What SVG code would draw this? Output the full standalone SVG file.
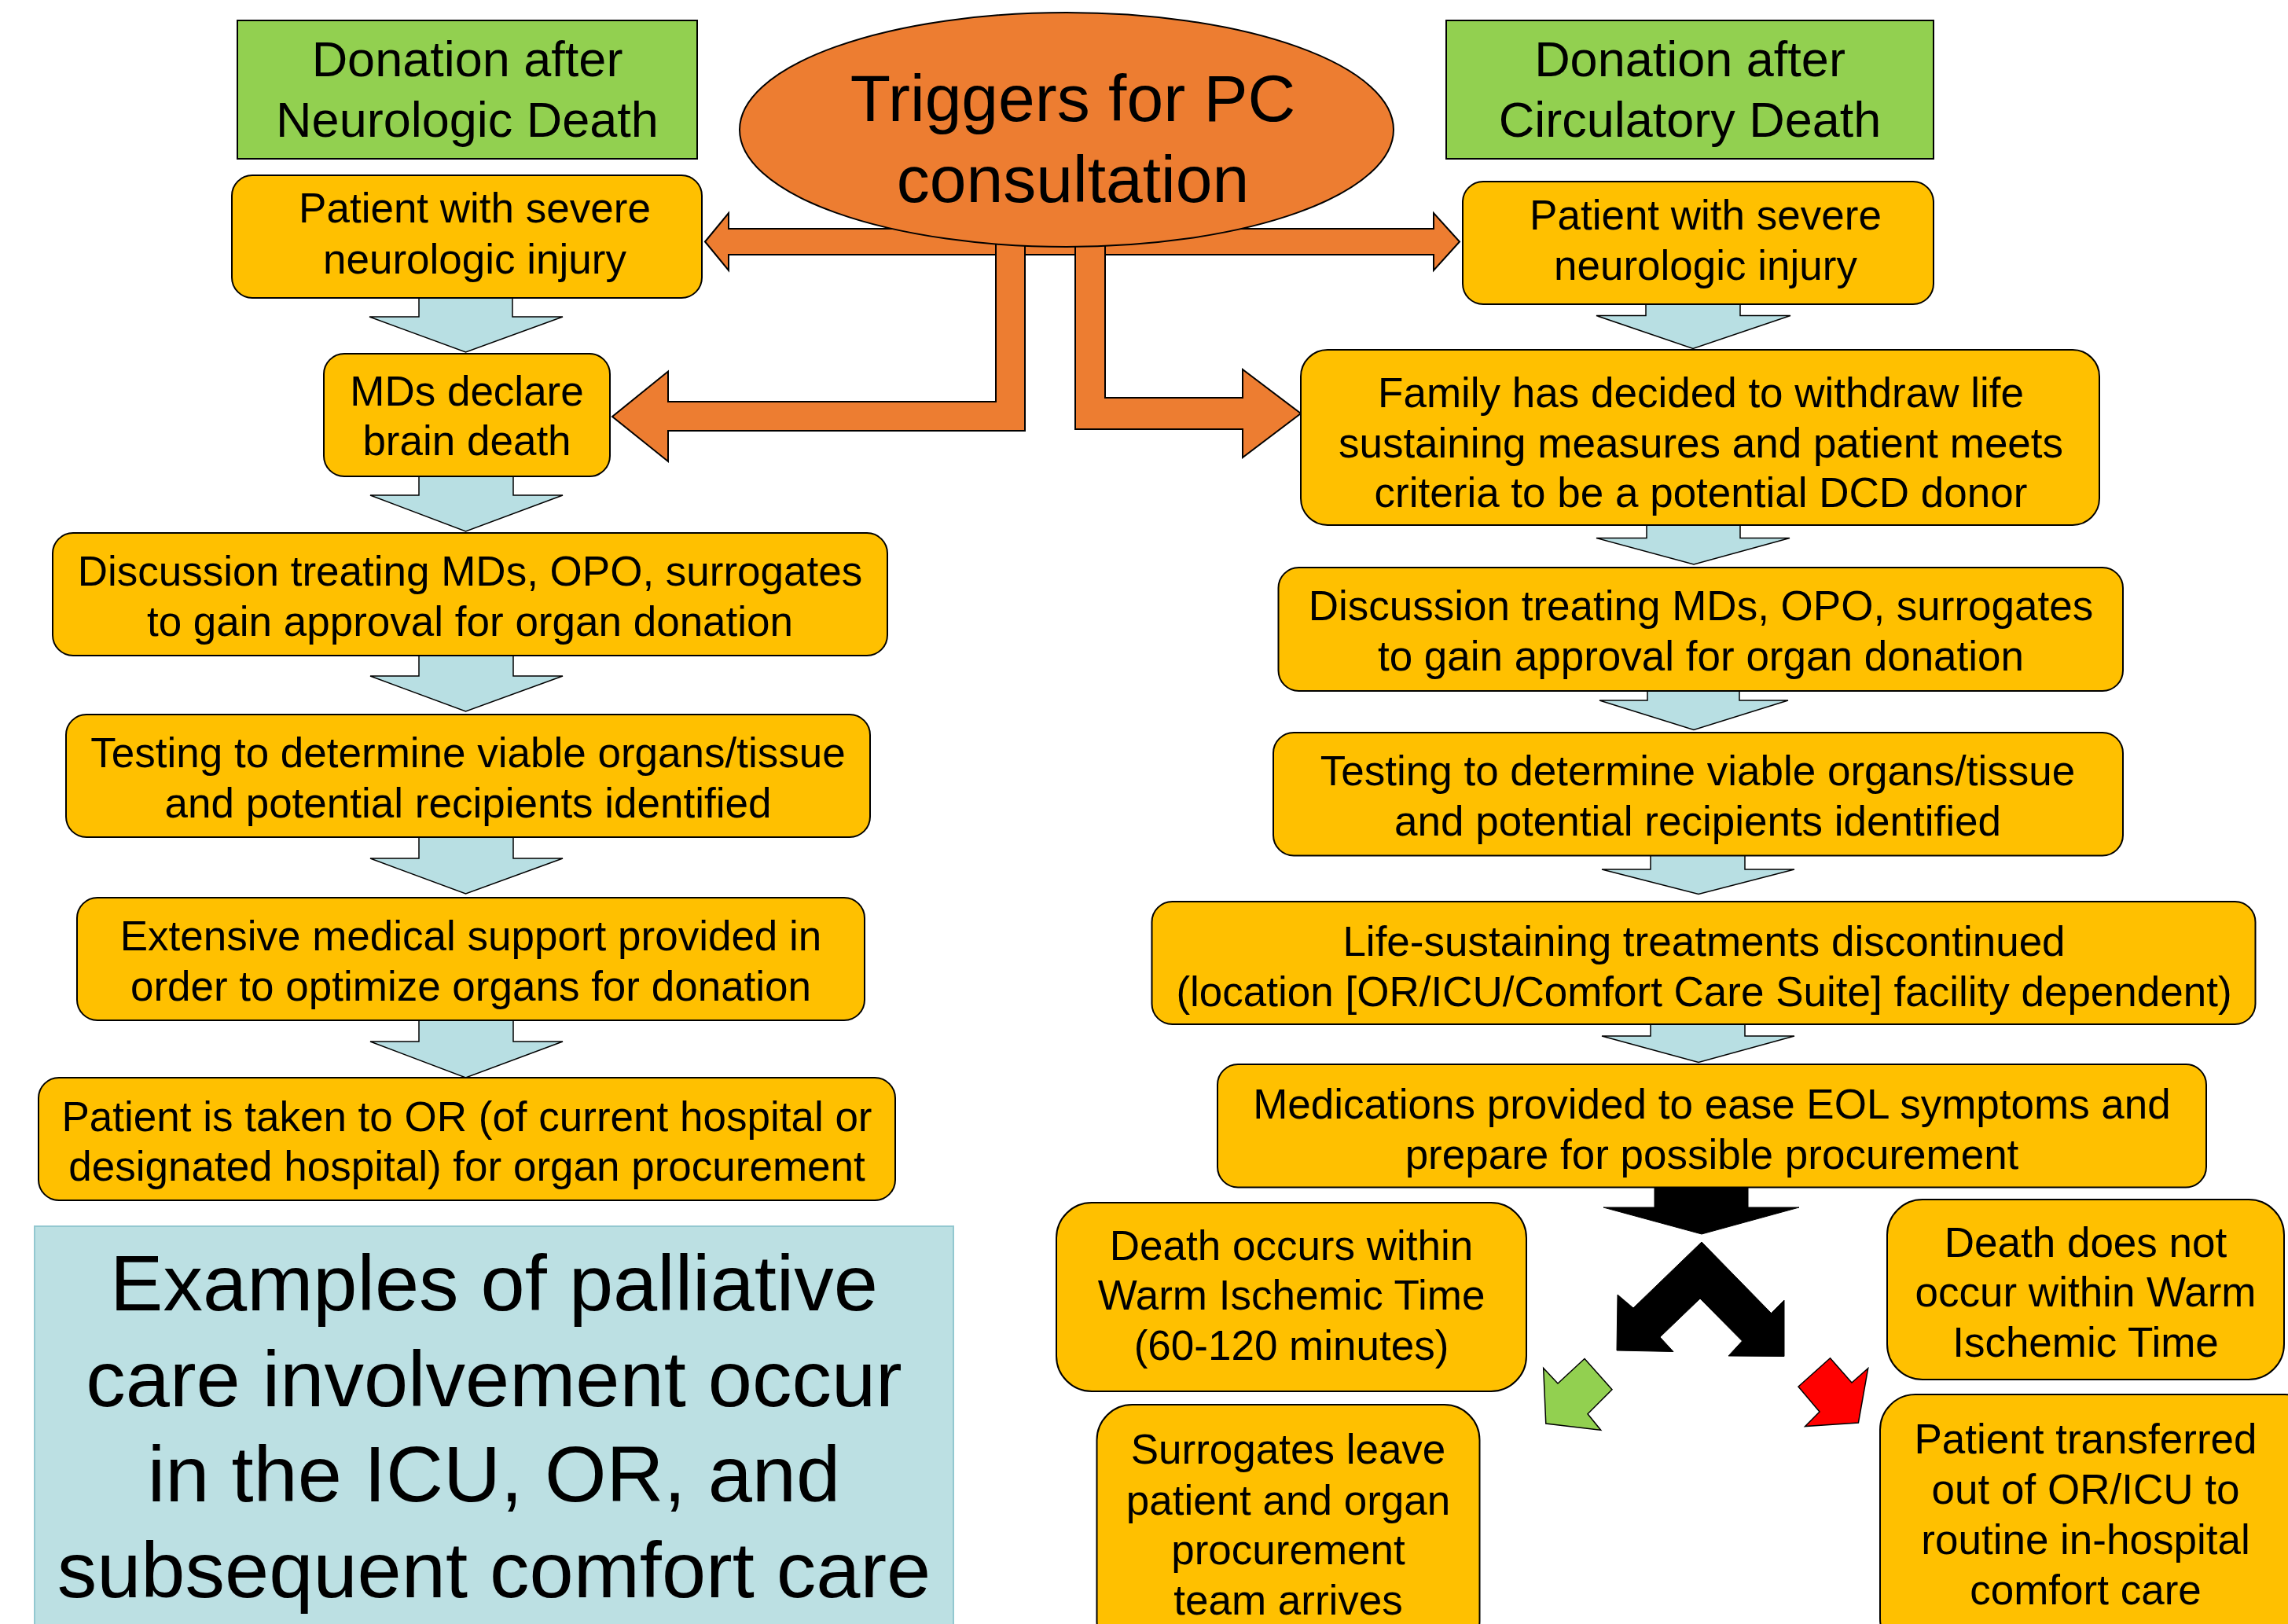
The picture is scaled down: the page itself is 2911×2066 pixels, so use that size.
<svg xmlns="http://www.w3.org/2000/svg" width="2911" height="2066" viewBox="0 0 2911 2066">
<style>
.box{fill:#ffc000;stroke:#000;stroke-width:2}
.green{fill:#92d050;stroke:#000;stroke-width:2}
.blue{fill:#bce0e3;stroke:#93c8d0;stroke-width:2}
.down{fill:#b8dfe3;stroke:#000;stroke-width:1.5}
.orange{fill:#ed7d31;stroke:#000;stroke-width:2}
.blk{fill:#000;stroke:#000;stroke-width:1}
text{font-family:'Liberation Sans',Arial,sans-serif;text-anchor:middle;fill:#000}
.t{font-size:53px}
.g{font-size:63px}
.big{font-size:84px}
.huge{font-size:101px}
</style>
<rect x="0" y="0" width="2911" height="2066" fill="#fff"/>
<g id="connectors">
  <polygon class="orange" points="897,307.5 927,271 927,291 1824,291 1824,271 1857,307.5 1824,344 1824,324 927,324 927,344"/>
  <polygon class="orange" points="1267,250 1304,250 1304,548 850,548 850,587 779,530 850,472.5 850,511 1267,511"/>
  <polygon class="orange" points="1368,250 1406,250 1406,506 1581,506 1581,470 1655,526 1581,582 1581,546 1368,546"/>
  <polygon class="down" points="533,379 652,379 652,403 716,403 592.5,448 470,403 533,403"/>
  <polygon class="down" points="533,605 653,605 653,630 716,630 592.5,676 471,630 533,630"/>
  <polygon class="down" points="533,834 653,834 653,860 716,860 592.5,905 471,860 533,860"/>
  <polygon class="down" points="533,1065 653,1065 653,1092 716,1092 592.5,1137 471,1092 533,1092"/>
  <polygon class="down" points="533,1298 653,1298 653,1325 716,1325 592.5,1371 471,1325 533,1325"/>
  <polygon class="down" points="2094,387 2214,387 2214,401.5 2278,401.5 2154,443.5 2031,401.5 2094,401.5"/>
  <polygon class="down" points="2095,668 2214,668 2214,684.5 2277,684.5 2155,718 2031,684.5 2095,684.5"/>
  <polygon class="down" points="2096,879 2213,879 2213,891 2275,891 2155,928.5 2035,891 2096,891"/>
  <polygon class="down" points="2100,1088 2220,1088 2220,1106 2283,1106 2161,1137.5 2038,1106 2100,1106"/>
  <polygon class="down" points="2100,1303 2220,1303 2220,1318 2283,1318 2161,1351.5 2038,1318 2100,1318"/>
  <polygon class="blk" points="2105,1510 2224,1510 2224,1536 2289,1536 2165,1570 2040,1536 2105,1536"/>
  <polygon class="blk" points="2165,1580 2078,1664 2058,1647 2057,1718 2129,1719.5 2112,1701 2163,1652 2216.5,1706 2199,1725 2270,1725.5 2270,1654 2253.5,1670.6"/>
  <polygon fill="#92d050" stroke="#000" stroke-width="1.5" points="2016,1728.5 2051,1767.7 2020,1798.8 2036.7,1819.3 1966.8,1811 1963.7,1740.5 1982,1760"/>
  <polygon fill="#ff0000" stroke="#000" stroke-width="1.5" points="2328.5,1727.8 2356,1759 2376.7,1740.8 2364.4,1810 2296.6,1814.5 2315,1796 2288,1764"/>
</g>
<g id="trigger">
  <ellipse class="orange" cx="1357" cy="165" rx="416" ry="149"/>
  <text class="big" x="1365" y="154">Triggers for PC</text>
  <text class="big" x="1365" y="257">consultation</text>
</g>
<g id="dnd-title">
  <rect class="green" x="302" y="26" width="585" height="176"/>
  <text class="g" x="594.5" y="97">Donation after</text>
  <text class="g" x="594.5" y="174">Neurologic Death</text>
</g>
<g id="dcd-title">
  <rect class="green" x="1840" y="26" width="620" height="176"/>
  <text class="g" x="2150" y="97">Donation after</text>
  <text class="g" x="2150" y="174">Circulatory Death</text>
</g>
<g id="l1">
  <rect class="box" x="295" y="223" width="598" height="156" rx="26"/>
  <text class="t" x="604" y="283">Patient with severe</text>
  <text class="t" x="604" y="348">neurologic injury</text>
</g>
<g id="l2">
  <rect class="box" x="412" y="450" width="364" height="156" rx="26"/>
  <text class="t" x="594" y="516">MDs declare</text>
  <text class="t" x="594" y="579">brain death</text>
</g>
<g id="l3">
  <rect class="box" x="67" y="678" width="1062" height="156" rx="26"/>
  <text class="t" x="598" y="745">Discussion treating MDs, OPO, surrogates</text>
  <text class="t" x="598" y="809">to gain approval for organ donation</text>
</g>
<g id="l4">
  <rect class="box" x="84" y="909" width="1023" height="156" rx="26"/>
  <text class="t" x="595.5" y="976">Testing to determine viable organs/tissue</text>
  <text class="t" x="595.5" y="1040">and potential recipients identified</text>
</g>
<g id="l5">
  <rect class="box" x="98" y="1142" width="1002" height="156" rx="26"/>
  <text class="t" x="599" y="1209">Extensive medical support provided in</text>
  <text class="t" x="599" y="1273">order to optimize organs for donation</text>
</g>
<g id="l6">
  <rect class="box" x="49" y="1371" width="1090" height="156" rx="26"/>
  <text class="t" x="594" y="1439">Patient is taken to OR (of current hospital or</text>
  <text class="t" x="594" y="1502">designated hospital) for organ procurement</text>
</g>
<g id="examples">
  <rect class="blue" x="44" y="1560" width="1169" height="560"/>
  <text class="huge" x="628.5" y="1667">Examples of palliative</text>
  <text class="huge" x="628.5" y="1789">care involvement occur</text>
  <text class="huge" x="628.5" y="1910">in the ICU, OR, and</text>
  <text class="huge" x="628.5" y="2032">subsequent comfort care</text>
</g>
<g id="r1">
  <rect class="box" x="1861" y="231" width="599" height="156" rx="26"/>
  <text class="t" x="2170" y="292">Patient with severe</text>
  <text class="t" x="2170" y="356">neurologic injury</text>
</g>
<g id="r2">
  <rect class="box" x="1655" y="445" width="1016" height="223" rx="34"/>
  <text class="t" x="2164" y="518">Family has decided to withdraw life</text>
  <text class="t" x="2164" y="582">sustaining measures and patient meets</text>
  <text class="t" x="2164" y="645">criteria to be a potential DCD donor</text>
</g>
<g id="r3">
  <rect class="box" x="1626.5" y="722" width="1074.5" height="157" rx="26"/>
  <text class="t" x="2164" y="789">Discussion treating MDs, OPO, surrogates</text>
  <text class="t" x="2164" y="853">to gain approval for organ donation</text>
</g>
<g id="r4">
  <rect class="box" x="1620" y="932" width="1081" height="156.5" rx="26"/>
  <text class="t" x="2160" y="999">Testing to determine viable organs/tissue</text>
  <text class="t" x="2160" y="1063">and potential recipients identified</text>
</g>
<g id="r5">
  <rect class="box" x="1465.5" y="1147" width="1404" height="156" rx="26"/>
  <text class="t" x="2168" y="1216">Life-sustaining treatments discontinued</text>
  <text class="t" x="2168" y="1280">(location [OR/ICU/Comfort Care Suite] facility dependent)</text>
</g>
<g id="r6">
  <rect class="box" x="1549" y="1354" width="1258" height="156.5" rx="26"/>
  <text class="t" x="2178" y="1423">Medications provided to ease EOL symptoms and</text>
  <text class="t" x="2178" y="1487">prepare for possible procurement</text>
</g>
<g id="death-within">
  <rect class="box" x="1344" y="1530" width="598" height="240" rx="45"/>
  <text class="t" x="1643" y="1603">Death occurs within</text>
  <text class="t" x="1643" y="1666">Warm Ischemic Time</text>
  <text class="t" x="1643" y="1730">(60-120 minutes)</text>
</g>
<g id="death-not">
  <rect class="box" x="2401" y="1526" width="505" height="229" rx="45"/>
  <text class="t" x="2653.5" y="1599">Death does not</text>
  <text class="t" x="2653.5" y="1662">occur within Warm</text>
  <text class="t" x="2653.5" y="1726">Ischemic Time</text>
</g>
<g id="surrogates">
  <rect class="box" x="1395.5" y="1787" width="487" height="320" rx="45"/>
  <text class="t" x="1639" y="1862">Surrogates leave</text>
  <text class="t" x="1639" y="1927">patient and organ</text>
  <text class="t" x="1639" y="1990">procurement</text>
  <text class="t" x="1639" y="2054">team arrives</text>
</g>
<g id="transferred">
  <rect class="box" x="2392" y="1774" width="560" height="330" rx="45"/>
  <text class="t" x="2653.5" y="1849">Patient transferred</text>
  <text class="t" x="2653.5" y="1913">out of OR/ICU to</text>
  <text class="t" x="2653.5" y="1977">routine in-hospital</text>
  <text class="t" x="2653.5" y="2041">comfort care</text>
</g>
</svg>
